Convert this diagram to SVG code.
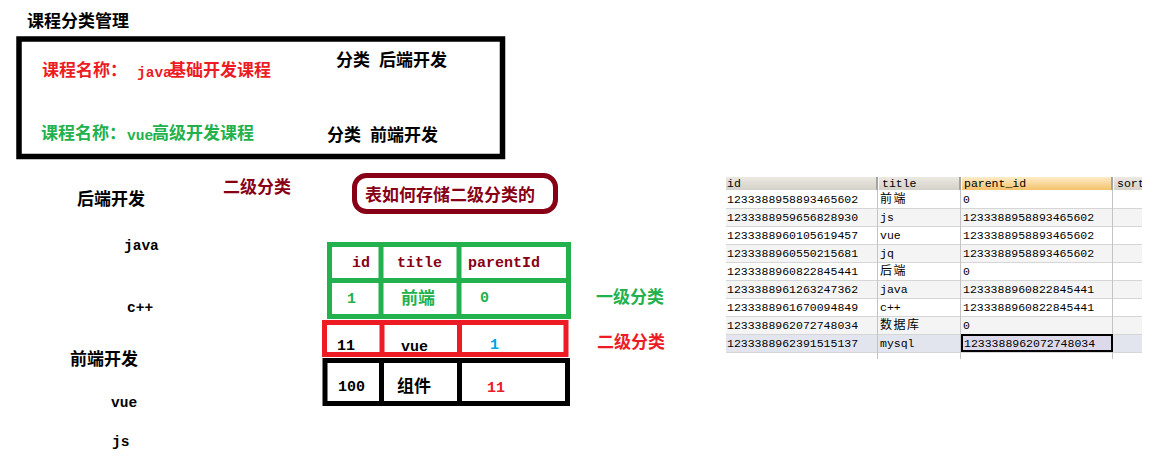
<svg xmlns="http://www.w3.org/2000/svg" width="1163" height="464" viewBox="0 0 1163 464">
<style>
.cn{font-family:"Noto Sans CJK SC","Noto Sans",sans-serif;font-weight:bold;font-size:17px}
.en{font-family:"Liberation Mono","DejaVu Sans Mono",monospace;font-weight:bold;font-size:14.5px}
.th{font-family:"Liberation Mono","DejaVu Sans Mono",monospace;font-weight:bold;font-size:15px}
.box{fill:none;stroke-width:5}
.g{font-family:"Liberation Mono","DejaVu Sans Mono",monospace;font-size:11.5px;fill:#000}
.gc{font-family:"Noto Sans CJK SC",sans-serif;font-size:12px;letter-spacing:1.5px;fill:#000}
.vl{stroke:#c4c4c4;stroke-width:1}
.hl{stroke:#d6d6d6;stroke-width:1}
.red{fill:#ED1C24}.grn{fill:#22B14C}.dr{fill:#880015}.blu{fill:#00A2E8}.blk{fill:#000}
</style>
<defs>
<linearGradient id="hdr" x1="0" y1="0" x2="0" y2="1"><stop offset="0" stop-color="#ebe9e2"/><stop offset="1" stop-color="#d4d1c8"/></linearGradient>
<linearGradient id="hdrO" x1="0" y1="0" x2="0" y2="1"><stop offset="0" stop-color="#fdedc9"/><stop offset="1" stop-color="#f4c26a"/></linearGradient>
<clipPath id="gclip"><rect x="726" y="177" width="416" height="182"/></clipPath>
</defs>
<rect width="1163" height="464" fill="#fff"/>

<g id="title">
<text class="cn blk" x="27" y="27">课程分类管理</text>
</g>

<g id="course-box">
<rect x="19" y="39" width="483.5" height="117.5" fill="none" stroke="#000" stroke-width="5.5"/>
<text class="cn red" x="42" y="76">课程名称：<tspan class="en" x="137" y="77">java</tspan><tspan x="169" y="76">基础开发课程</tspan></text>
<text class="cn grn" x="41" y="139">课程名称：<tspan class="en" x="127" y="140">vue</tspan><tspan x="152" y="139">高级开发课程</tspan></text>
<text class="cn blk" x="336" y="66">分类<tspan x="379">后端开发</tspan></text>
<text class="cn blk" x="327" y="141">分类<tspan x="370">前端开发</tspan></text>
</g>

<g id="category-list">
<text class="cn blk" x="77" y="205">后端开发</text>
<text class="en blk" x="124" y="250">java</text>
<text class="en blk" x="127" y="312">c++</text>
<text class="cn blk" x="70" y="365">前端开发</text>
<text class="en blk" x="111" y="407">vue</text>
<text class="en blk" x="112" y="446">js</text>
<text class="cn dr" x="223" y="193">二级分类</text>
</g>

<g id="question">
<rect x="354.5" y="175.5" width="201" height="36" rx="12" fill="none" stroke="#880015" stroke-width="5"/>
<text class="cn dr" x="365" y="201">表如何存储二级分类的</text>
</g>

<g id="table">
<g id="level1-rows">
<rect x="329.5" y="244.5" width="239" height="72" fill="none" stroke="#22B14C" stroke-width="5"/>
<path d="M329.5 280.5H568.5M381 244.5V316.5M459 244.5V316.5" stroke="#22B14C" stroke-width="5" fill="none"/>
<text class="th dr" x="352" y="267">id</text>
<text class="th dr" x="397" y="267">title</text>
<text class="th dr" x="468" y="267">parentId</text>
<text class="th grn" x="347" y="303">1</text>
<text class="cn grn" x="401" y="304">前端</text>
<text class="th grn" x="480" y="302">0</text>
</g>
<g id="level2-row">
<rect x="324.5" y="322.5" width="241.5" height="32" fill="none" stroke="#ED1C24" stroke-width="5"/>
<path d="M382 322.5V354.5M459.5 322.5V354.5" stroke="#ED1C24" stroke-width="5" fill="none"/>
<text class="th blk" x="337" y="350">11</text>
<text class="th blk" x="401" y="351">vue</text>
<text class="th blu" x="490" y="349">1</text>
</g>
<g id="level3-row">
<rect x="325" y="360.5" width="242.5" height="43" fill="none" stroke="#000" stroke-width="5"/>
<path d="M381.5 360.5V403.5M459.5 360.5V403.5" stroke="#000" stroke-width="5" fill="none"/>
<text class="th blk" x="338" y="391">100</text>
<text class="cn blk" x="397" y="392">组件</text>
<text class="th red" x="487" y="392">11</text>
</g>
<text class="cn grn" x="596" y="303">一级分类</text>
<text class="cn red" x="597" y="348">二级分类</text>
</g>

<g id="db-grid" clip-path="url(#gclip)">
<rect x="726" y="177" width="416" height="13" fill="url(#hdr)"/>
<rect x="961" y="177" width="152" height="13" fill="url(#hdrO)"/>
<g fill="#a4a4a4">
<rect x="876" y="177" width="2" height="13"/>
<rect x="959" y="177" width="2" height="13"/>
<rect x="1111" y="177" width="2" height="13"/>
</g>
<g fill="#fff">
<rect x="878" y="177" width="1" height="13"/>
<rect x="961" y="177" width="1" height="13"/>
<rect x="1113" y="177" width="1" height="13"/>
</g>
<text class="g" x="727" y="187">id</text>
<text class="g" x="882" y="187">title</text>
<text class="g" x="964" y="187">parent_id</text>
<text class="g" x="1117" y="187">sort</text>

<rect x="726" y="190" width="416" height="18" fill="#fff"/>
<rect x="726" y="208" width="416" height="18" fill="#f4f4f4"/>
<rect x="726" y="226" width="416" height="18" fill="#fff"/>
<rect x="726" y="244" width="416" height="18" fill="#f4f4f4"/>
<rect x="726" y="262" width="416" height="18" fill="#fff"/>
<rect x="726" y="280" width="416" height="18" fill="#f4f4f4"/>
<rect x="726" y="298" width="416" height="18" fill="#fff"/>
<rect x="726" y="316" width="416" height="18" fill="#f4f4f4"/>
<rect x="726" y="334" width="416" height="18" fill="#e2e4ee"/>

<path class="hl" d="M726 208.5H1142M726 226.5H1142M726 244.5H1142M726 262.5H1142M726 280.5H1142M726 298.5H1142M726 316.5H1142M726 334.5H1142M726 352.5H1142"/>
<path class="vl" d="M877.5 190V359M960.5 190V359M1112.5 190V359"/>

<rect x="962" y="335" width="150" height="16" fill="#dcdaea" stroke="#000" stroke-width="2"/>

<text class="g" x="727" y="203">1233388958893465602</text>
<text class="gc" x="880" y="203">前端</text>
<text class="g" x="963" y="203">0</text>

<text class="g" x="727" y="221">1233388959656828930</text>
<text class="g" x="880" y="221">js</text>
<text class="g" x="963" y="221">1233388958893465602</text>

<text class="g" x="727" y="239">1233388960105619457</text>
<text class="g" x="880" y="239">vue</text>
<text class="g" x="963" y="239">1233388958893465602</text>

<text class="g" x="727" y="257">1233388960550215681</text>
<text class="g" x="880" y="257">jq</text>
<text class="g" x="963" y="257">1233388958893465602</text>

<text class="g" x="727" y="275">1233388960822845441</text>
<text class="gc" x="880" y="275">后端</text>
<text class="g" x="963" y="275">0</text>

<text class="g" x="727" y="293">1233388961263247362</text>
<text class="g" x="880" y="293">java</text>
<text class="g" x="963" y="293">1233388960822845441</text>

<text class="g" x="727" y="311">1233388961670094849</text>
<text class="g" x="880" y="311">c++</text>
<text class="g" x="963" y="311">1233388960822845441</text>

<text class="g" x="727" y="329">1233388962072748034</text>
<text class="gc" x="880" y="329">数据库</text>
<text class="g" x="963" y="329">0</text>

<text class="g" x="727" y="347">1233388962391515137</text>
<text class="g" x="880" y="347">mysql</text>
<text class="g" x="964" y="347">1233388962072748034</text>
</g>
</svg>
